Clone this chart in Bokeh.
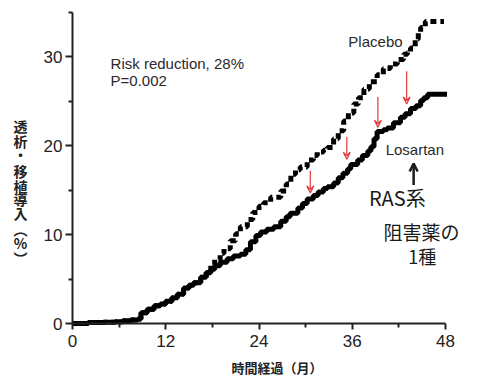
from bokeh.plotting import figure
from bokeh.models import Range1d, FixedTicker, Label, Arrow, VeeHead, OpenHead
from bokeh.embed import file_html
from bokeh.resources import INLINE

# ---- data (months, cumulative % ) ----
losartan_month = [0, 2, 4, 5.5, 6.5, 7.5, 8.4, 8.8, 9.6, 10.5, 11.3, 12, 12.8, 13.5, 14.3, 15,
                  15.6, 16.5, 17.2, 17.8, 18.3, 19, 19.9, 20.7, 21.6, 22.3, 22.9, 23.6, 24.2, 25,
                  25.9, 26.8, 27.5, 28, 29, 29.6, 30.2, 31, 31.6, 32.3, 32.8, 33.6, 34.2, 34.8,
                  35.4, 35.8, 36.7, 37.3, 38, 38.4, 38.8, 39.2, 40, 40.5, 41.3, 42.2, 42.8, 43.5,
                  44.2, 44.8, 45.2, 45.7, 48.2]
losartan_pct = [0, 0.1, 0.15, 0.2, 0.3, 0.4, 0.5, 1.2, 1.6, 2.0, 2.2, 2.5, 2.9, 3.3, 4.0, 4.3,
                4.6, 5.2, 5.7, 6.1, 6.5, 6.9, 7.3, 7.6, 7.8, 8.3, 9.2, 9.9, 10.3, 10.6,
                10.9, 11.5, 12.0, 12.4, 13.0, 13.5, 14.0, 14.4, 14.8, 15.2, 15.4, 15.8, 16.4, 16.9,
                17.4, 17.9, 18.4, 18.9, 19.4, 19.9, 20.8, 21.6, 21.8, 22.0, 22.6, 23.2, 23.6, 24.2,
                24.5, 25.1, 25.4, 25.8, 25.8]

placebo_month = [0, 2, 4, 5.5, 6.5, 7.5, 8.4, 8.8, 9.6, 10.5, 11.3, 12, 12.8, 13.5, 14.3, 15,
                 15.6, 16.5, 17.2, 17.8, 18.3, 19, 19.5, 20.3, 21, 21.6, 22.5, 23.2, 24, 24.6,
                 25.5, 26.8, 27.5, 28.1, 28.7, 29.3, 30.2, 31, 31.5, 32.3, 32.8, 33.6, 34.2, 34.9,
                 35.5, 36.2, 36.8, 37.5, 38.2, 39.2, 40, 40.9, 41.8, 42.6, 43.1, 43.5, 44.1, 44.5,
                 44.8, 45.4, 47.8]
placebo_pct = [0, 0.1, 0.15, 0.2, 0.3, 0.4, 0.5, 1.2, 1.6, 2.0, 2.2, 2.5, 2.9, 3.3, 4.0, 4.3,
               4.6, 5.2, 5.7, 6.6, 7.2, 7.9, 8.4, 9.3, 10.1, 10.9, 11.7, 12.5, 13.2, 13.6,
               14.2, 14.9, 15.7, 16.8, 17.3, 17.6, 18.4, 18.9, 19.3, 19.5, 19.8, 20.8, 21.7, 22.8,
               23.7, 24.7, 25.4, 26.4, 27.2, 28.0, 28.7, 29.2, 29.7, 30.3, 30.5, 31.0, 32.0, 32.8,
               33.3, 34.0, 34.0]

x_ticks = [0, 12, 24, 36, 48]
x_minor = [6, 18, 30, 42]
y_ticks = [0, 10, 20, 30]
y_minor = [5, 15, 25, 35]

ylabel_chars = ["透", "析", "・", "移", "植", "導", "入", "︵", "%", "︶"]

# canvas geometry: frame spans the whole canvas; axes are placed at data 0
W, H = 477, 378
SX = (445 - 72) / 48.0      # px per month
SY = (323 - 12) / 35.0      # px per percent
x0 = -72 / SX
x1 = (W - 72) / SX
y0 = -(H - 323) / SY
y1 = 323 / SY

p = figure(width=W, height=H, output_backend="svg", toolbar_location=None,
           x_range=Range1d(x0, x1), y_range=Range1d(y0, y1),
           min_border=0)
p.outline_line_color = None
p.grid.visible = False
p.background_fill_color = "white"
p.border_fill_color = "white"

for ax, tk, mn, bd in ((p.xaxis[0], x_ticks, x_minor, (0, 48)), (p.yaxis[0], y_ticks, y_minor, (0, 35))):
    ax.fixed_location = 0
    ax.bounds = bd
    ax.ticker = FixedTicker(ticks=tk, minor_ticks=mn)
    ax.axis_line_width = 2
    ax.axis_line_color = "#222222"
    ax.major_tick_line_width = 2
    ax.minor_tick_line_width = 2
    ax.major_tick_line_color = "#222222"
    ax.minor_tick_line_color = "#222222"
    ax.major_tick_in = 0
    ax.minor_tick_in = 0
    ax.major_label_text_font = "Liberation Sans"
    ax.major_label_text_font_size = "17px"
    ax.major_label_text_color = "#222222"
p.xaxis.major_tick_out = 6
p.xaxis.minor_tick_out = 4
p.yaxis.major_tick_out = 7
p.yaxis.minor_tick_out = 4
p.yaxis.major_label_standoff = 3
p.xaxis.major_label_standoff = 5

p.step(placebo_month, placebo_pct, mode="after", line_color="black", line_width=5,
       line_dash="6 4")
p.step(losartan_month, losartan_pct, mode="after", line_color="black", line_width=5)


def lab(x, y, text, size="15px", font="Liberation Sans", align="left", style="normal", color="#2a2a2a"):
    p.add_layout(Label(x=x, y=y, text=text, text_font=font, text_font_size=size,
                       text_align=align, text_baseline="middle", text_color=color,
                       text_font_style=style))


lab(4.9, 29.3, "Risk reduction, 28%")
lab(4.9, 27.4, "P=0.002")
lab(35.5, 31.7, "Placebo")
lab(40.3, 19.6, "Losartan")

# handwritten note
lab(41.8, 14.2, "RAS系", size="20px", font="Noto Sans CJK JP", align="center", color="#1a1a1a")
lab(44.9, 10.4, "阻害薬の", size="19px", font="Noto Sans CJK JP", align="center", color="#1a1a1a")
lab(45.0, 7.6, "1種", size="18px", font="Noto Sans CJK JP", align="center", color="#1a1a1a")

# y-axis label (vertical)
y_px = [125, 140, 153, 170, 185, 198, 212, 228, 242, 257]
for ch, yp in zip(ylabel_chars, y_px):
    lab(-52 / SX, (323 - yp) / SY, ch, size="14px", font="Noto Sans CJK JP", align="center",
        style="bold", color="#222222")

# x-axis label
lab((276.5 - 72) / SX, (323 - 367) / SY, "時間経過（月）", size="13px", font="Noto Sans CJK JP",
    align="center", style="bold", color="#222222")

# red arrows
for ax_, ya, yb in ((30.6, 17.2, 14.7), (35.3, 21.0, 18.5), (39.3, 25.5, 22.1), (43.0, 28.4, 24.7)):
    p.add_layout(Arrow(x_start=ax_, y_start=ya, x_end=ax_, y_end=yb, line_color="#e23b3b",
                       line_width=1.2, end=VeeHead(size=7, line_color="#e23b3b", line_width=1.2,
                                                 fill_color=None)))
# black arrow
p.add_layout(Arrow(x_start=43.9, y_start=15.6, x_end=43.9, y_end=18.0, line_color="#1a1a1a",
                   line_width=2.5, end=OpenHead(size=8, line_color="#1a1a1a", line_width=2.5)))

open("out.html", "w").write(file_html(p, INLINE))
